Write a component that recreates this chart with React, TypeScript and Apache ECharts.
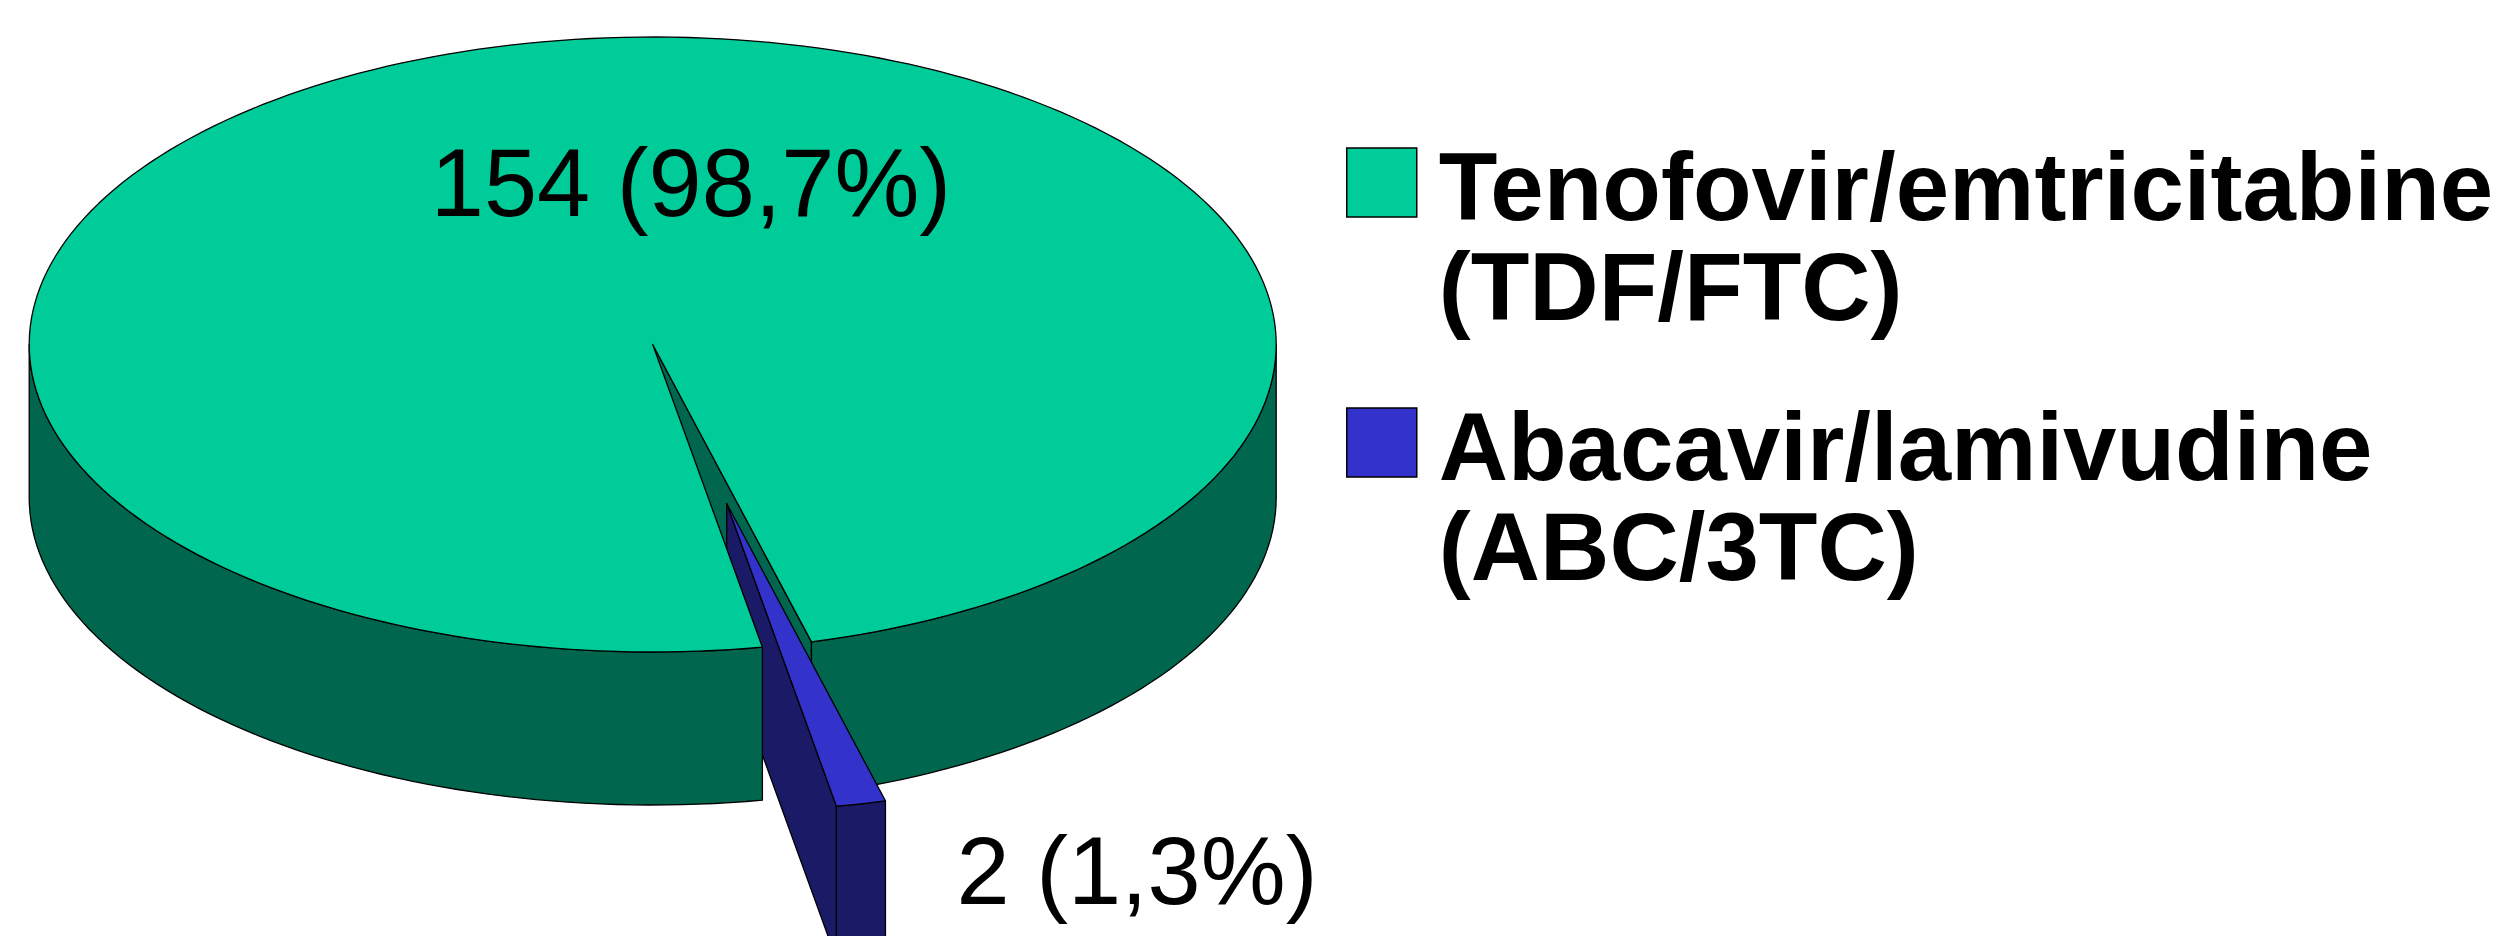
import React, { useEffect, useRef } from "react";
import * as echarts from "echarts";

const categories = ["Tenofovir/emtricitabine\n(TDF/FTC)", "Abacavir/lamivudine\n(ABC/3TC)"];
const seriesValues = [154, 2];
const dataLabels = ["154 (98,7%)", "2 (1,3%)"];
const topColors = ["#00CC99", "#3333CC"];
const sideColors = ["#00664D", "#1A1A66"];

const CX = 652.7;
const CY = 344.5;
const RX = 623.5;
const RY = 307.5;
const DEPTH = 153;
const START_DEG = 14.75; // measured from straight down, turning towards the right
const EXPLODE = [74, 159];
const FONT = '"Liberation Sans", Arial, sans-serif';
const LABEL_POS = [[691, 182.5], [1137, 870.5]];
const LINE = { stroke: "#000", lineWidth: 1.3, lineJoin: "round" };

const total = seriesValues.reduce((a, b) => a + b, 0);
const rad = (d: number) => (d * Math.PI) / 180;

function rim(from: number, to: number, ox: number, oy: number, dz = 0) {
  const n = Math.max(2, Math.ceil(Math.abs(to - from) / 1.5));
  const pts: number[][] = [];
  for (let i = 0; i <= n; i++) {
    const a = rad(from + ((to - from) * i) / n);
    pts.push([CX + ox + RX * Math.sin(a), CY + oy + RY * Math.cos(a) + dz]);
  }
  return pts;
}
const face = (pts: number[][], fill: string, z2: number) => ({
  type: "polygon",
  z2,
  shape: { points: pts },
  style: { fill, ...LINE },
});
const outer = (from: number, to: number, ox: number, oy: number, fill: string, z2: number) =>
  face([...rim(from, to, ox, oy), ...rim(to, from, ox, oy, DEPTH)], fill, z2);
const cutWall = (deg: number, ox: number, oy: number, fill: string, z2: number) => {
  const p = rim(deg, deg, ox, oy)[0];
  const a = [CX + ox, CY + oy];
  return face([a, p, [p[0], p[1] + DEPTH], [a[0], a[1] + DEPTH]], fill, z2);
};
const label = (i: number) => ({
  type: "text",
  z2: 20,
  style: {
    text: dataLabels[i],
    x: LABEL_POS[i][0],
    y: LABEL_POS[i][1],
    fill: "#000",
    fontFamily: FONT,
    fontSize: 95.5,
    textAlign: "center",
    textVerticalAlign: "middle",
  },
});

const renderMain = (_: any, api: any) => {
  const sweep = (api.value(0) / total) * 360;
  const end = START_DEG + sweep;
  const apex = [CX, CY];
  return {
    type: "group",
    children: [
      cutWall(START_DEG, 0, 0, sideColors[0], 1),
      outer(START_DEG, 90, 0, 0, sideColors[0], 2),
      outer(270, end, 0, 0, sideColors[0], 10),
      face([apex, ...rim(START_DEG, end, 0, 0)], topColors[0], 11),
      label(0),
    ],
  };
};
const renderSmall = (_: any, api: any) => {
  const sweep = (api.value(0) / total) * 360;
  const from = START_DEG - sweep;
  const to = START_DEG;
  const [ox, oy] = EXPLODE;
  return {
    type: "group",
    children: [
      cutWall(from, ox, oy, sideColors[1], 3),
      outer(from, to, ox, oy, sideColors[1], 4),
      face([[CX + ox, CY + oy], ...rim(from, to, ox, oy)], topColors[1], 5),
      label(1),
    ],
  };
};

const ICON = "path://M0,0H70V69H0Z M87,177";

export default function App() {
  const ref = useRef<HTMLDivElement>(null);
  useEffect(() => {
    document.body.style.margin = "0";
    const chart = echarts.init(ref.current!, undefined, { renderer: "svg" });
    chart.setOption({
      animation: false,
      backgroundColor: "#fff",
      legend: {
        orient: "vertical",
        left: 1341,
        top: 131.5,
        icon: ICON,
        itemWidth: 87,
        itemHeight: 177,
        itemGap: 60,
        selectedMode: false,
        itemStyle: { borderColor: "#000", borderWidth: 1.5 },
        textStyle: {
          color: "#000",
          fontFamily: FONT,
          fontWeight: "bold",
          fontSize: 96,
          lineHeight: 100,
        },
        data: categories,
      },
      series: [
        {
          type: "custom",
          name: categories[0],
          coordinateSystem: "none",
          silent: true,
          itemStyle: { color: topColors[0] },
          data: [[seriesValues[0]]],
          renderItem: renderMain,
        },
        {
          type: "custom",
          name: categories[1],
          coordinateSystem: "none",
          silent: true,
          itemStyle: { color: topColors[1] },
          data: [[seriesValues[1]]],
          renderItem: renderSmall,
        },
      ],
    });
    return () => chart.dispose();
  }, []);
  return <div ref={ref} style={{ position: "fixed", left: 0, top: 0, width: 2511, height: 936, overflow: "hidden" }} />;
}
